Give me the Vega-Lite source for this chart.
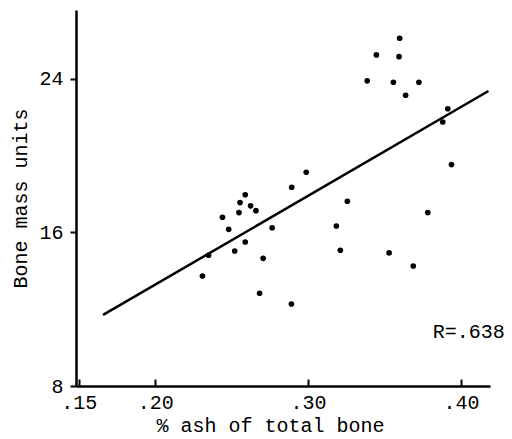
{
  "$schema": "https://vega.github.io/schema/vega-lite/v6.json",
  "width": 414,
  "height": 376,
  "autosize": {"type": "none"},
  "padding": {"left": 76, "top": 10, "right": 22, "bottom": 53},
  "background": "white",
  "config": {"view": {"stroke": null}, "font": "Liberation Mono"},
  "datasets": {
    "bone": [
      {"ash": 0.3599, "mass": 26.11},
      {"ash": 0.3447, "mass": 25.24},
      {"ash": 0.3595, "mass": 25.15},
      {"ash": 0.3387, "mass": 23.89},
      {"ash": 0.3558, "mass": 23.82},
      {"ash": 0.3725, "mass": 23.82},
      {"ash": 0.3638, "mass": 23.14},
      {"ash": 0.3914, "mass": 22.44},
      {"ash": 0.3881, "mass": 21.75},
      {"ash": 0.3938, "mass": 19.53},
      {"ash": 0.2988, "mass": 19.13},
      {"ash": 0.2893, "mass": 18.35},
      {"ash": 0.3257, "mass": 17.62},
      {"ash": 0.2589, "mass": 17.96},
      {"ash": 0.2555, "mass": 17.55},
      {"ash": 0.2624, "mass": 17.38},
      {"ash": 0.2659, "mass": 17.13},
      {"ash": 0.2548, "mass": 17.03},
      {"ash": 0.2440, "mass": 16.79},
      {"ash": 0.3783, "mass": 17.03},
      {"ash": 0.2481, "mass": 16.16},
      {"ash": 0.2765, "mass": 16.24},
      {"ash": 0.3185, "mass": 16.33},
      {"ash": 0.2349, "mass": 14.81},
      {"ash": 0.2520, "mass": 15.03},
      {"ash": 0.2589, "mass": 15.50},
      {"ash": 0.2706, "mass": 14.65},
      {"ash": 0.3211, "mass": 15.07},
      {"ash": 0.3530, "mass": 14.93},
      {"ash": 0.3688, "mass": 14.25},
      {"ash": 0.2309, "mass": 13.73},
      {"ash": 0.2683, "mass": 12.83},
      {"ash": 0.2891, "mass": 12.27}
    ],
    "fit": [
      {"ash": 0.1659, "mass": 11.70},
      {"ash": 0.4180, "mass": 23.36}
    ],
    "note": [
      {"ash": 0.3816, "mass": 10.81, "label": "R=.638"}
    ]
  },
  "layer": [
    {
      "data": {"name": "bone"},
      "mark": {"type": "circle", "color": "black", "opacity": 1, "size": 32},
      "encoding": {
        "x": {
          "field": "ash",
          "type": "quantitative",
          "scale": {"domain": [0.1482, 0.419], "nice": false, "zero": false},
          "axis": {
            "title": "% ash of total bone",
            "titleX": 194,
            "titleAlign": "center",
            "values": [0.15, 0.2, 0.3, 0.4],
            "labelExpr": "substring(format(datum.value, '.2f'), 1)",
            "grid": false,
            "domainColor": "black",
            "domainWidth": 2.5,
            "tickColor": "black",
            "tickWidth": 2,
            "tickSize": -7,
            "labelPadding": 13,
            "labelOverlap": false,
            "labelFlush": false,
            "labelFont": "Liberation Mono",
            "labelFontSize": 20,
            "labelColor": "black",
            "titleFont": "Liberation Mono",
            "titleFontSize": 20,
            "titleFontWeight": "normal",
            "titleColor": "black",
            "titlePadding": 3
          }
        },
        "y": {
          "field": "mass",
          "type": "quantitative",
          "scale": {"domain": [8, 27.58], "nice": false, "zero": false},
          "axis": {
            "title": "Bone mass units",
            "values": [8, 16, 24],
            "grid": false,
            "domainColor": "black",
            "domainWidth": 2.5,
            "tickColor": "black",
            "tickWidth": 2,
            "tickSize": 6,
            "labelPadding": 7,
            "labelOverlap": false,
            "labelFont": "Liberation Mono",
            "labelFontSize": 20,
            "labelColor": "black",
            "titleFont": "Liberation Mono",
            "titleFontSize": 20,
            "titleFontWeight": "normal",
            "titleColor": "black",
            "titlePadding": 8
          }
        }
      }
    },
    {
      "data": {"name": "fit"},
      "mark": {"type": "line", "color": "black", "strokeWidth": 2.5},
      "encoding": {
        "x": {"field": "ash", "type": "quantitative"},
        "y": {"field": "mass", "type": "quantitative"}
      }
    },
    {
      "data": {"name": "note"},
      "mark": {"type": "text", "align": "left", "baseline": "middle", "fontSize": 20, "font": "Liberation Mono", "color": "black"},
      "encoding": {
        "x": {"field": "ash", "type": "quantitative"},
        "y": {"field": "mass", "type": "quantitative"},
        "text": {"field": "label"}
      }
    }
  ]
}
